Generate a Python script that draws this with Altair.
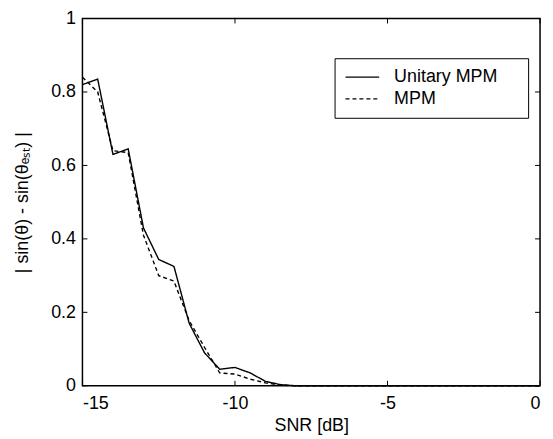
import altair as alt
import pandas as pd

snr = [-15, -14.5, -14, -13.5, -13, -12.5, -12, -11.5, -11, -10.5, -10, -9.5, -9, -8.5, -8,
       -7.5, -7, -6.5, -6, -5.5, -5, -4.5, -4, -3.5, -3, -2.5, -2, -1.5, -1, -0.5, 0]
unitary = [0.82, 0.835, 0.63, 0.645, 0.43, 0.344, 0.325, 0.17, 0.09, 0.045, 0.05, 0.035, 0.012, 0.003, 0.0,
           0, 0, 0, 0, 0, 0, 0, 0, 0, 0, 0, 0, 0, 0, 0, 0]
mpm = [0.84, 0.80, 0.64, 0.635, 0.41, 0.30, 0.285, 0.177, 0.105, 0.035, 0.032, 0.018, 0.008, 0.002, 0.0,
       0, 0, 0, 0, 0, 0, 0, 0, 0, 0, 0, 0, 0, 0, 0, 0]
series = ["Unitary MPM", "MPM"]
x_ticks = [-15, -10, -5, 0]
y_ticks = [0, 0.2, 0.4, 0.6, 0.8, 1]

W, H = 461, 370
FONT = "Liberation Sans"
FS = 18

rows = []
for s, u, m in zip(snr, unitary, mpm):
    rows.append({"snr": s, "val": u, "method": series[0]})
    rows.append({"snr": s, "val": m, "method": series[1]})
df = pd.DataFrame(rows)

xs = alt.Scale(domain=[-15, 0], nice=False, zero=False)
ys = alt.Scale(domain=[0, 1], nice=False)

lines = alt.Chart(df).mark_line(color="black", strokeWidth=1.4).encode(
    x=alt.X("snr:Q", scale=xs,
            axis=alt.Axis(values=x_ticks, ticks=False, grid=False, domain=False,
                          labelExpr="'' + datum.value",
                          labelFontSize=FS, labelFont=FONT, labelColor="black",
                          labelPadding=9, title="SNR [dB]", titleFont=FONT,
                          titleFontSize=FS, titleFontWeight="normal", titleColor="black",
                          titlePadding=4)),
    y=alt.Y("val:Q", scale=ys,
            axis=alt.Axis(values=y_ticks, ticks=False, grid=False, domain=False,
                          labelExpr="'' + datum.value",
                          labelFontSize=FS, labelFont=FONT, labelColor="black",
                          labelPadding=7, title="| sin(θ) - sin(θₑₛₜ) |", titleFont=FONT,
                          titleFontSize=FS, titleFontWeight="normal", titleColor="black",
                          titlePadding=19)),
    strokeDash=alt.StrokeDash("method:N",
                              scale=alt.Scale(domain=series, range=[[1, 0], [4, 3]]),
                              legend=alt.Legend(title=None, orient="none", legendX=254, legendY=40,
                                                strokeColor="black", fillColor="white",
                                                padding=10, symbolType="stroke",
                                                symbolSize=1150, symbolStrokeWidth=1.4,
                                                symbolStrokeColor="black",
                                                clipHeight=18,
                                                labelExpr="datum.label + '\u00a0\u00a0\u00a0\u00a0\u200b'",
                                                labelFontSize=FS, labelFont=FONT,
                                                labelColor="black", labelOffset=14,
                                                rowPadding=4, labelLimit=300)),
    order=alt.Order("snr:Q"),
)

xt = pd.DataFrame({"t": x_ticks})
yt = pd.DataFrame({"t": y_ticks})
bottom_ticks = alt.Chart(xt).mark_rule(color="black").encode(
    x=alt.X("t:Q", scale=xs), y=alt.value(H), y2=alt.value(H - 5))
top_ticks = alt.Chart(xt).mark_rule(color="black").encode(
    x=alt.X("t:Q", scale=xs), y=alt.value(0), y2=alt.value(5))
left_ticks = alt.Chart(yt).mark_rule(color="black").encode(
    y=alt.Y("t:Q", scale=ys), x=alt.value(0), x2=alt.value(5))
right_ticks = alt.Chart(yt).mark_rule(color="black").encode(
    y=alt.Y("t:Q", scale=ys), x=alt.value(W), x2=alt.value(W - 5))

chart = alt.layer(lines, bottom_ticks, top_ticks, left_ticks, right_ticks).properties(
    width=W, height=H,
    padding={"left": 75, "top": 9, "right": 5, "bottom": 52},
    autosize=alt.AutoSizeParams(type="none"),
    background="white",
).configure_view(stroke="black", strokeWidth=1.5)

chart.save("out.html", embed_options={"renderer": "svg", "actions": False})
